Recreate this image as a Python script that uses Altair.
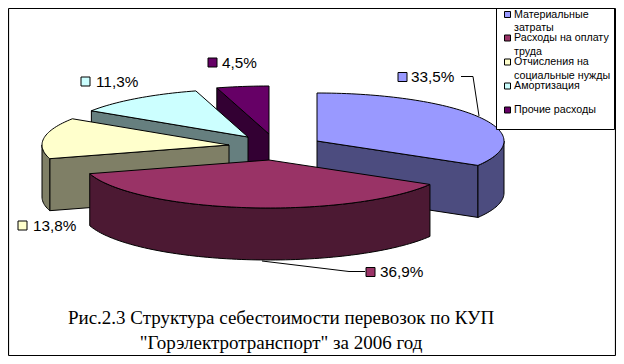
import math
import altair as alt
import pandas as pd

# --- values ---
shares = [33.5, 36.9, 13.8, 11.3, 4.5]
share_labels = ["33,5%", "36,9%", "13,8%", "11,3%", "4,5%"]
top_colors = ["#9999FF", "#993366", "#FFFFCC", "#CCFFFF", "#660066"]
wall_colors = ["#4C4C7F", "#4C1933", "#7F7F66", "#667F7F", "#330033"]
legend_names = ["Материальные", "Расходы на оплату", "Отчисления на", "Амортизация", "Прочие расходы"]
legend_extra = ["затраты", "труда", "социальные нужды"]
caption = ["Рис.2.3 Структура себестоимости перевозок по КУП",
           "\"Горэлектротранспорт\" за 2006 год"]

# --- layout of the exploded pie (page pixels) ---
apex_x = [317, 269, 229, 248, 269]
apex_y = [141, 160, 145, 137, 134]
RX, RY, DEPTH = 187, 48, 52
draw_order = [4, 3, 2, 0, 1]

XS = alt.Scale(domain=[8, 616])
YS = alt.Scale(domain=[356, 8])
X = alt.X("x:Q", scale=XS, axis=None)
Y = alt.Y("y:Q", scale=YS, axis=None)


def rim(cx, cy, a):
    r = math.radians(a)
    return cx + RX * math.sin(r), cy - RY * math.cos(r)


def arc(cx, cy, a0, a1):
    n = max(2, int(abs(a1 - a0) / 1.5))
    return [rim(cx, cy, a0 + (a1 - a0) * k / n) for k in range(n + 1)]


def poly(points, fill):
    pts = list(points) + [points[0]]
    df = pd.DataFrame({"x": [p[0] for p in pts], "y": [p[1] for p in pts], "i": range(len(pts))})
    return alt.Chart(df).mark_line(fill=fill, stroke="black", strokeWidth=1).encode(x=X, y=Y, order="i:Q")


edges = [0.0]
for s in shares:
    edges.append(edges[-1] + s / sum(shares) * 360)

layers = []

for i in draw_order:
    cx, cy = apex_x[i], apex_y[i]
    a0, a1 = edges[i], edges[i + 1]
    wall = wall_colors[i]
    # cut faces
    if math.sin(math.radians(a0)) < -1e-6:
        p = rim(cx, cy, a0)
        layers.append(poly([(cx, cy), p, (p[0], p[1] + DEPTH), (cx, cy + DEPTH)], wall))
    if math.sin(math.radians(a1)) > 1e-6:
        p = rim(cx, cy, a1)
        layers.append(poly([(cx, cy), p, (p[0], p[1] + DEPTH), (cx, cy + DEPTH)], wall))
    # outer rim
    lo, hi = max(a0, 90), min(a1, 270)
    if hi > lo:
        top = arc(cx, cy, lo, hi)
        bottom = [(x, y + DEPTH) for x, y in reversed(top)]
        layers.append(poly(top + bottom, wall))
    # top face
    layers.append(poly([(cx, cy)] + arc(cx, cy, a0, a1), top_colors[i]))

# leader lines
leaders = [[(461, 76.5), (473, 76.5), (479, 116)],
           [(262, 261), (349, 271.5), (365, 271.5)]]
for ld in leaders:
    df = pd.DataFrame({"x": [p[0] for p in ld], "y": [p[1] for p in ld], "i": range(len(ld))})
    layers.append(alt.Chart(df).mark_line(color="black", strokeWidth=1).encode(x=X, y=Y, order="i:Q"))

# data labels
lab_box_x = [402.5, 370.5, 22.5, 85.5, 212.5]
lab_y = [77, 272, 225.5, 81.5, 62.5]
lab_text_x = [411, 380, 33, 96, 222]
lab = pd.DataFrame({"bx": lab_box_x, "y": lab_y, "tx": lab_text_x, "t": share_labels, "c": top_colors})
layers.append(alt.Chart(lab).mark_square(size=81, stroke="black", strokeWidth=1, opacity=1).encode(
    x=alt.X("bx:Q", scale=XS, axis=None), y=Y, fill=alt.Fill("c:N", scale=None)))
layers.append(alt.Chart(lab).mark_text(align="left", baseline="middle", font="Liberation Sans", fontSize=15.3, color="black").encode(
    x=alt.X("tx:Q", scale=XS, axis=None), y=Y, text="t:N"))

# legend
box = pd.DataFrame({"x": [496.5], "x2": [614.5], "y": [8.5], "y2": [129.5]})
layers.append(alt.Chart(box).mark_rect(fill="white", stroke="black", strokeWidth=1).encode(x=X, x2="x2:Q", y=Y, y2="y2:Q"))
leg_y = [14.5, 38, 62, 86, 110]
leg = pd.DataFrame({"x": [507.5] * 5, "y": leg_y, "tx": [514] * 5, "t": legend_names, "c": top_colors})
layers.append(alt.Chart(leg).mark_square(size=36, stroke="black", strokeWidth=1, opacity=1).encode(
    x=X, y=Y, fill=alt.Fill("c:N", scale=None)))
leg_more = pd.DataFrame({"tx": [514] * 3, "y": [27.5, 52, 76], "t": legend_extra})
for frame_t in (leg, leg_more):
    layers.append(alt.Chart(frame_t).mark_text(align="left", baseline="middle", font="Liberation Sans", fontSize=10.7, color="black").encode(
        x=alt.X("tx:Q", scale=XS, axis=None), y=Y, text="t:N"))

# caption
cap = pd.DataFrame({"x": [281, 281], "y": [318, 343], "t": caption})
layers.append(alt.Chart(cap).mark_text(align="center", baseline="middle", font="Liberation Serif", fontSize=19, color="black").encode(
    x=X, y=Y, text="t:N"))

# outer frame
fv = pd.DataFrame({"x": [8.5, 615.5], "y": [8.5, 8.5], "y2": [355.5, 355.5]})
fh = pd.DataFrame({"y": [8.5, 355.5], "x": [8.5, 8.5], "x2": [615.5, 615.5]})
layers.append(alt.Chart(fv).mark_rule(color="black", strokeWidth=1.2).encode(x=X, y=Y, y2="y2:Q"))
layers.append(alt.Chart(fh).mark_rule(color="black", strokeWidth=1.2).encode(x=X, x2="x2:Q", y=Y))

chart = alt.layer(*layers).properties(
    width=608, height=348, padding=0, autosize=alt.AutoSizeParams(type="none"), background="white"
).configure_view(stroke=None)

chart.save("out.html", embed_options={"renderer": "svg", "actions": False})
